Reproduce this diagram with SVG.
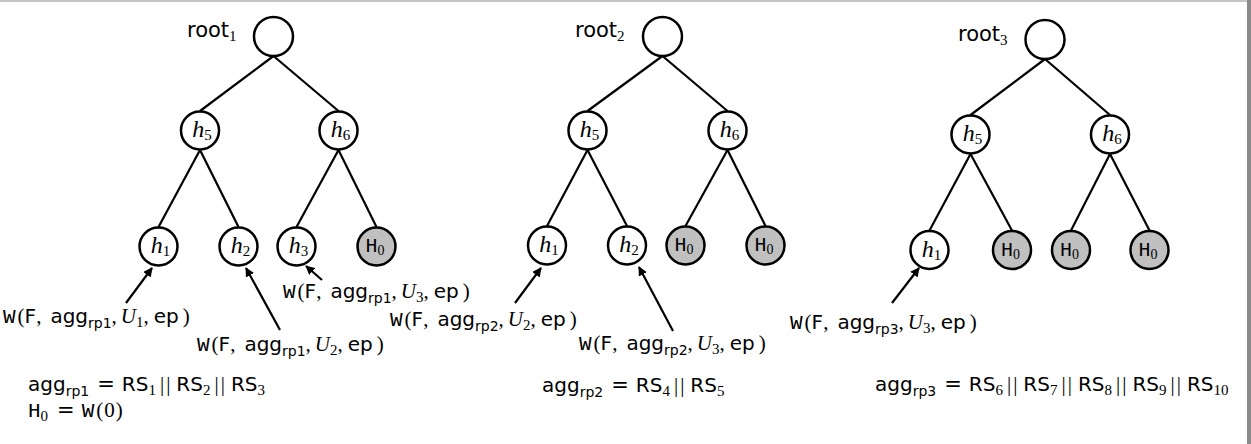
<svg xmlns="http://www.w3.org/2000/svg" width="1251" height="444" viewBox="0 0 1251 444">
<style>
.bg{fill:#fff}
.node{fill:#fff;stroke:#000;stroke-width:2.5}
.leaf0{fill:#c0c0c0;stroke:#000;stroke-width:2.5}
.edge{stroke:#000;stroke-width:2.2;fill:none}
.arr{stroke:#000;stroke-width:2.2;fill:none;marker-end:url(#ah)}
text{fill:#000;font-size:20px;font-family:"DejaVu Sans",sans-serif}
.sans{font-family:"DejaVu Sans","Liberation Sans",sans-serif}
.serif{font-family:"Liberation Serif","DejaVu Serif",serif;font-size:21px}
.it{font-style:italic}
.mono{font-family:"Liberation Mono","DejaVu Sans Mono",monospace;font-size:21px}
.eq{font-family:"DejaVu Sans",sans-serif;font-size:21px}
.sub{font-size:14px}
.dsub{font-family:"Liberation Serif",serif;font-size:15px;font-style:normal}
.root{font-size:21px}
.nl{font-family:"Liberation Serif",serif;font-style:italic;font-size:24px}
.nls{font-family:"Liberation Serif",serif;font-style:normal;font-size:15px}
.h0{font-family:"Liberation Mono",monospace;font-size:20px}
.h0s{font-family:"Liberation Serif",serif;font-size:14px}
</style>
<defs>
<marker id="ah" viewBox="0 0 10 10" refX="9" refY="5" markerWidth="4.2" markerHeight="4.2" orient="auto" markerUnits="strokeWidth">
<path d="M0,0 L10,5 L0,10 z" fill="#000"/>
</marker>
</defs>
<rect class="bg" x="0" y="0" width="1251" height="444"/>
<rect x="0" y="0" width="1248" height="2" fill="#c4c4c4"/>
<rect x="1247" y="0" width="4" height="444" fill="#8a8a8a"/>

<g id="connectors">
<line class="edge" x1="273.5" y1="56" x2="200" y2="111"/>
<line class="edge" x1="273.5" y1="56" x2="338.5" y2="111"/>
<line class="edge" x1="200" y1="150" x2="158.5" y2="227"/>
<line class="edge" x1="200" y1="150" x2="238.5" y2="227"/>
<line class="edge" x1="338.5" y1="150" x2="296.5" y2="227"/>
<line class="edge" x1="338.5" y1="150" x2="376.5" y2="227"/>
<line class="arr" x1="126" y1="303" x2="152" y2="268"/>
<line class="arr" x1="280" y1="330" x2="246" y2="268"/>
<line class="arr" x1="322" y1="280" x2="306" y2="266"/>
<line class="edge" x1="662.5" y1="56" x2="587.5" y2="111"/>
<line class="edge" x1="662.5" y1="56" x2="727.5" y2="111"/>
<line class="edge" x1="587.5" y1="150" x2="547" y2="226"/>
<line class="edge" x1="587.5" y1="150" x2="627" y2="226"/>
<line class="edge" x1="727.5" y1="150" x2="685.5" y2="226"/>
<line class="edge" x1="727.5" y1="150" x2="765.5" y2="226"/>
<line class="arr" x1="515" y1="303" x2="541" y2="268"/>
<line class="arr" x1="673" y1="331" x2="639" y2="267"/>
<line class="edge" x1="1045" y1="59" x2="970.5" y2="115"/>
<line class="edge" x1="1045" y1="59" x2="1110" y2="115"/>
<line class="edge" x1="970.5" y1="154" x2="929.5" y2="230.5"/>
<line class="edge" x1="970.5" y1="154" x2="1012" y2="230.5"/>
<line class="edge" x1="1110" y1="154" x2="1071" y2="230.5"/>
<line class="edge" x1="1110" y1="154" x2="1149.5" y2="230.5"/>
<line class="arr" x1="892" y1="303" x2="919" y2="268"/>
</g>

<g id="t1-root"><circle class="node" cx="273.5" cy="36.5" r="19.5"/><text x="187" y="37"><tspan class="root">root</tspan><tspan class="dsub" dy="4">1</tspan></text></g>
<g id="t1-h5"><circle class="node" cx="200" cy="130.5" r="19"/><text x="202" y="137" text-anchor="middle"><tspan class="nl">h</tspan><tspan class="nls" dy="3">5</tspan></text></g>
<g id="t1-h6"><circle class="node" cx="338.5" cy="130.5" r="19"/><text x="340.5" y="137" text-anchor="middle"><tspan class="nl">h</tspan><tspan class="nls" dy="3">6</tspan></text></g>
<g id="t1-h1"><circle class="node" cx="158.5" cy="246.5" r="19"/><text x="160.5" y="253" text-anchor="middle"><tspan class="nl">h</tspan><tspan class="nls" dy="3">1</tspan></text></g>
<g id="t1-h2"><circle class="node" cx="238.5" cy="246.5" r="19"/><text x="240.5" y="253" text-anchor="middle"><tspan class="nl">h</tspan><tspan class="nls" dy="3">2</tspan></text></g>
<g id="t1-h3"><circle class="node" cx="296.5" cy="246.5" r="19"/><text x="298.5" y="253" text-anchor="middle"><tspan class="nl">h</tspan><tspan class="nls" dy="3">3</tspan></text></g>
<g id="t1-H0"><circle class="leaf0" cx="376.5" cy="246.5" r="19"/><text x="375" y="252" text-anchor="middle"><tspan class="h0">H</tspan><tspan class="h0s" dy="3">0</tspan></text></g>

<g id="t2-root"><circle class="node" cx="662.5" cy="36.5" r="19.5"/><text x="575" y="37"><tspan class="root">root</tspan><tspan class="dsub" dy="4">2</tspan></text></g>
<g id="t2-h5"><circle class="node" cx="587.5" cy="130.5" r="19"/><text x="589.5" y="137" text-anchor="middle"><tspan class="nl">h</tspan><tspan class="nls" dy="3">5</tspan></text></g>
<g id="t2-h6"><circle class="node" cx="727.5" cy="130.5" r="19"/><text x="729.5" y="137" text-anchor="middle"><tspan class="nl">h</tspan><tspan class="nls" dy="3">6</tspan></text></g>
<g id="t2-h1"><circle class="node" cx="547" cy="245.5" r="19"/><text x="549" y="252" text-anchor="middle"><tspan class="nl">h</tspan><tspan class="nls" dy="3">1</tspan></text></g>
<g id="t2-h2"><circle class="node" cx="627" cy="245.5" r="19"/><text x="629" y="252" text-anchor="middle"><tspan class="nl">h</tspan><tspan class="nls" dy="3">2</tspan></text></g>
<g id="t2-H0a"><circle class="leaf0" cx="685.5" cy="245.5" r="19"/><text x="684" y="251" text-anchor="middle"><tspan class="h0">H</tspan><tspan class="h0s" dy="3">0</tspan></text></g>
<g id="t2-H0b"><circle class="leaf0" cx="765.5" cy="245.5" r="19"/><text x="764" y="251" text-anchor="middle"><tspan class="h0">H</tspan><tspan class="h0s" dy="3">0</tspan></text></g>

<g id="t3-root"><circle class="node" cx="1045" cy="39.5" r="19.5"/><text x="958" y="41"><tspan class="root">root</tspan><tspan class="dsub" dy="4">3</tspan></text></g>
<g id="t3-h5"><circle class="node" cx="970.5" cy="134.5" r="19"/><text x="972.5" y="141" text-anchor="middle"><tspan class="nl">h</tspan><tspan class="nls" dy="3">5</tspan></text></g>
<g id="t3-h6"><circle class="node" cx="1110" cy="134.5" r="19"/><text x="1112" y="141" text-anchor="middle"><tspan class="nl">h</tspan><tspan class="nls" dy="3">6</tspan></text></g>
<g id="t3-h1"><circle class="node" cx="929.5" cy="250" r="19"/><text x="931.5" y="256.5" text-anchor="middle"><tspan class="nl">h</tspan><tspan class="nls" dy="3">1</tspan></text></g>
<g id="t3-H0a"><circle class="leaf0" cx="1012" cy="250" r="19"/><text x="1010.5" y="255.5" text-anchor="middle"><tspan class="h0">H</tspan><tspan class="h0s" dy="3">0</tspan></text></g>
<g id="t3-H0b"><circle class="leaf0" cx="1071" cy="250" r="19"/><text x="1069.5" y="255.5" text-anchor="middle"><tspan class="h0">H</tspan><tspan class="h0s" dy="3">0</tspan></text></g>
<g id="t3-H0c"><circle class="leaf0" cx="1149.5" cy="250" r="19"/><text x="1148" y="255.5" text-anchor="middle"><tspan class="h0">H</tspan><tspan class="h0s" dy="3">0</tspan></text></g>

<g id="labels">
<text x="3" y="323"><tspan class="mono">W</tspan><tspan class="serif" dx="2">(</tspan><tspan>F</tspan><tspan class="serif">,</tspan><tspan dx="9">agg</tspan><tspan class="sub" dy="5">rp1</tspan><tspan class="serif" dy="-5">,</tspan><tspan class="serif it" dx="4">U</tspan><tspan class="dsub" dy="4">1</tspan><tspan class="serif" dy="-4">,</tspan><tspan dx="5">ep</tspan><tspan class="serif" dx="4">)</tspan></text>
<text x="197" y="351"><tspan class="mono">W</tspan><tspan class="serif" dx="2">(</tspan><tspan>F</tspan><tspan class="serif">,</tspan><tspan dx="9">agg</tspan><tspan class="sub" dy="5">rp1</tspan><tspan class="serif" dy="-5">,</tspan><tspan class="serif it" dx="4">U</tspan><tspan class="dsub" dy="4">2</tspan><tspan class="serif" dy="-4">,</tspan><tspan dx="5">ep</tspan><tspan class="serif" dx="4">)</tspan></text>
<text x="283" y="298"><tspan class="mono">W</tspan><tspan class="serif" dx="2">(</tspan><tspan>F</tspan><tspan class="serif">,</tspan><tspan dx="9">agg</tspan><tspan class="sub" dy="5">rp1</tspan><tspan class="serif" dy="-5">,</tspan><tspan class="serif it" dx="4">U</tspan><tspan class="dsub" dy="4">3</tspan><tspan class="serif" dy="-4">,</tspan><tspan dx="5">ep</tspan><tspan class="serif" dx="4">)</tspan></text>
<text x="28" y="391"><tspan>agg</tspan><tspan class="sub" dy="5">rp1</tspan><tspan class="eq" dy="-5" dx="8">=</tspan><tspan dx="7">RS</tspan><tspan class="dsub" dy="4">1</tspan><tspan class="serif" dy="-4" dx="4">|</tspan><tspan class="serif" dx="2">|</tspan><tspan dx="6">RS</tspan><tspan class="dsub" dy="4">2</tspan><tspan class="serif" dy="-4" dx="4">|</tspan><tspan class="serif" dx="2">|</tspan><tspan dx="6">RS</tspan><tspan class="dsub" dy="4">3</tspan></text>
<text x="28" y="417"><tspan class="mono">H</tspan><tspan class="dsub" dy="4">0</tspan><tspan class="eq" dy="-4" dx="9">=</tspan><tspan class="mono" dx="7">W</tspan><tspan class="serif" dx="2">(</tspan><tspan class="serif" dx="1">0</tspan><tspan class="serif" dx="1">)</tspan></text>

<text x="390" y="326"><tspan class="mono">W</tspan><tspan class="serif" dx="2">(</tspan><tspan>F</tspan><tspan class="serif">,</tspan><tspan dx="9">agg</tspan><tspan class="sub" dy="5">rp2</tspan><tspan class="serif" dy="-5">,</tspan><tspan class="serif it" dx="4">U</tspan><tspan class="dsub" dy="4">2</tspan><tspan class="serif" dy="-4">,</tspan><tspan dx="5">ep</tspan><tspan class="serif" dx="4">)</tspan></text>
<text x="579" y="350"><tspan class="mono">W</tspan><tspan class="serif" dx="2">(</tspan><tspan>F</tspan><tspan class="serif">,</tspan><tspan dx="9">agg</tspan><tspan class="sub" dy="5">rp2</tspan><tspan class="serif" dy="-5">,</tspan><tspan class="serif it" dx="4">U</tspan><tspan class="dsub" dy="4">3</tspan><tspan class="serif" dy="-4">,</tspan><tspan dx="5">ep</tspan><tspan class="serif" dx="4">)</tspan></text>
<text x="542" y="392"><tspan>agg</tspan><tspan class="sub" dy="5">rp2</tspan><tspan class="eq" dy="-5" dx="8">=</tspan><tspan dx="7">RS</tspan><tspan class="dsub" dy="4">4</tspan><tspan class="serif" dy="-4" dx="4">|</tspan><tspan class="serif" dx="2">|</tspan><tspan dx="6">RS</tspan><tspan class="dsub" dy="4">5</tspan></text>

<text x="790" y="329"><tspan class="mono">W</tspan><tspan class="serif" dx="2">(</tspan><tspan>F</tspan><tspan class="serif">,</tspan><tspan dx="9">agg</tspan><tspan class="sub" dy="5">rp3</tspan><tspan class="serif" dy="-5">,</tspan><tspan class="serif it" dx="4">U</tspan><tspan class="dsub" dy="4">3</tspan><tspan class="serif" dy="-4">,</tspan><tspan dx="5">ep</tspan><tspan class="serif" dx="4">)</tspan></text>
<text x="875" y="391"><tspan>agg</tspan><tspan class="sub" dy="5">rp3</tspan><tspan class="eq" dy="-5" dx="8">=</tspan><tspan dx="7">RS</tspan><tspan class="dsub" dy="4">6</tspan><tspan class="serif" dy="-4" dx="4">|</tspan><tspan class="serif" dx="2">|</tspan><tspan dx="6">RS</tspan><tspan class="dsub" dy="4">7</tspan><tspan class="serif" dy="-4" dx="4">|</tspan><tspan class="serif" dx="2">|</tspan><tspan dx="6">RS</tspan><tspan class="dsub" dy="4">8</tspan><tspan class="serif" dy="-4" dx="4">|</tspan><tspan class="serif" dx="2">|</tspan><tspan dx="6">RS</tspan><tspan class="dsub" dy="4">9</tspan><tspan class="serif" dy="-4" dx="4">|</tspan><tspan class="serif" dx="2">|</tspan><tspan dx="6">RS</tspan><tspan class="dsub" dy="4">10</tspan></text>
</g>
</svg>
